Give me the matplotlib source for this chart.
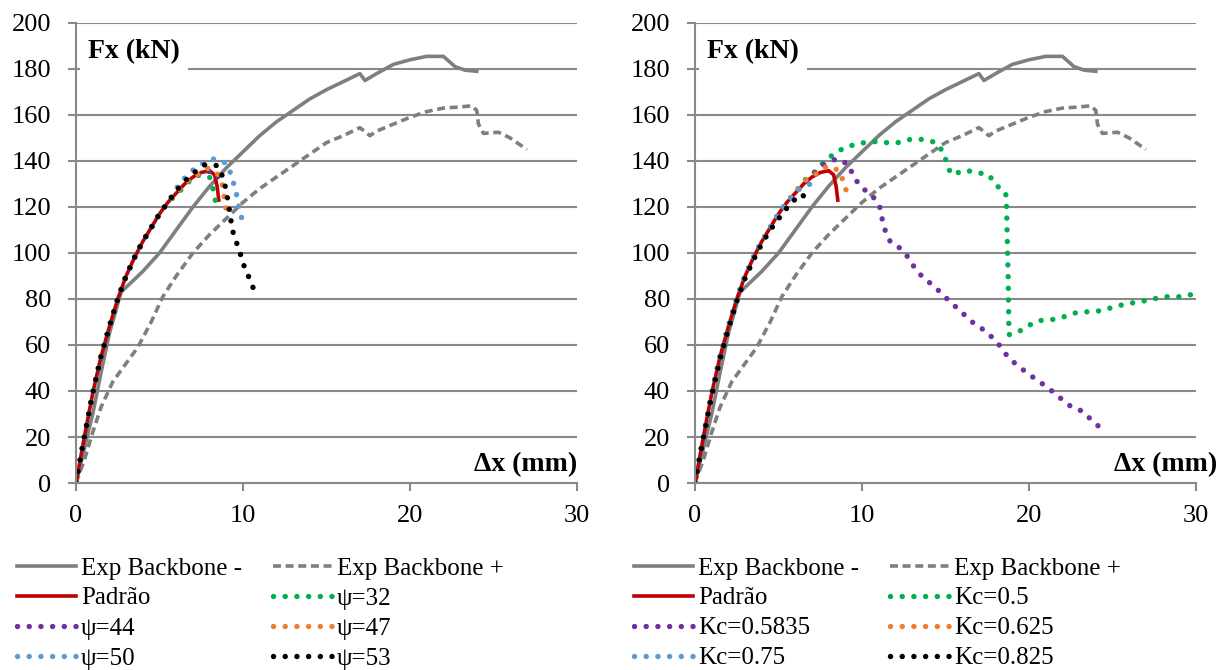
import matplotlib.pyplot as plt

# --- DADOS ---
# Curvas experimentais (envoltórias)
exp_neg_x = [0, 0.5, 1, 1.5, 2, 2.7, 4, 5, 6, 7, 8, 9, 10, 11, 12, 13, 14, 15, 16, 17, 17.3, 18, 19, 20, 21, 22, 22.7, 23.3, 24]
exp_neg_y = [0, 15, 30, 48, 65, 83, 92, 100, 110, 120, 129, 137, 144, 151, 157, 162, 167, 171, 174.5, 178, 175, 178, 182, 184, 185.5, 185.5, 181, 179.5, 179]

exp_pos_x = [0, 0.5, 1, 1.5, 2.2, 3, 3.7, 4.5, 5.2, 6, 7, 8, 9, 10, 11, 12, 13, 14, 15, 16, 17, 17.6, 18, 19, 20, 21, 22, 23, 23.7, 24, 24.1, 24.4, 25.3, 26, 27]
exp_pos_y = [0, 10, 22, 33, 44, 52, 59, 70, 81, 90, 100, 108, 115, 122, 128, 133, 138, 143, 148, 151, 154.5, 151, 153, 156, 159, 161.5, 163, 163.5, 164, 162, 156, 152, 152.5, 150, 145]

# Trecho inicial comum dos modelos numéricos
base_x = [0, 0.5, 1, 1.5, 2, 2.5, 3, 3.5, 4, 4.5, 5, 5.5]
base_y = [0, 20, 39, 55, 68, 80, 90, 98, 105, 111, 117, 122]

padrao_x = base_x + [6, 6.5, 7, 7.5, 8, 8.3, 8.45, 8.55]
padrao_y = base_y + [126, 130, 133, 135, 135.8, 134, 129, 123]

# Gráfico esquerdo: variação de psi
psi_labels = ['ψ=32', 'ψ=44', 'ψ=47', 'ψ=50', 'ψ=53']
psi_x = [
    base_x + [6.1, 6.7, 7.3, 8.0, 8.2, 8.35],
    base_x + [6, 6.5, 7, 7.5, 8.0, 8.45, 8.64],
    base_x + [6, 6.5, 7, 7.5, 7.9, 8.46, 8.76, 8.88, 9.0],
    base_x + [6.0, 6.5, 7.0, 7.6, 8.3, 9.0, 9.3, 9.5, 9.7, 9.8, 10.08],
    base_x + [6.0, 6.48, 7.08, 7.74, 8.46, 8.8, 9.0, 9.12, 9.24, 9.36, 9.6, 9.84, 10.08, 10.38, 10.68],
]
psi_y = [
    base_y + [126, 130.7, 133.8, 133, 128, 122.5],
    base_y + [126, 130, 133, 135, 135.5, 134.6, 128.6],
    base_y + [126, 130, 133, 135, 136.8, 134.6, 129.8, 124, 118.6],
    base_y + [128, 132.5, 136, 139, 141, 139, 134, 128.6, 123, 117.7, 112],
    base_y + [127, 131, 135, 138.5, 138, 133, 127, 121.6, 116, 110, 104.8, 99.6, 94, 89, 83.5],
]

# Gráfico direito: variação de Kc
kc_labels = ['Kc=0.5', 'Kc=0.5835', 'Kc=0.625', 'Kc=0.75', 'Kc=0.825']
kc_x = [
    base_x + [6.0, 6.56, 7.2, 7.7, 8.3, 9.0, 9.8, 10.6, 11.35, 12.15, 12.9, 13.7, 14.45, 14.94, 15.1, 15.4,
              16.15, 16.9, 17.6, 18.0, 18.6, 18.65, 18.75, 18.8, 19.3, 19.96, 20.6, 21.36, 22.1, 22.8, 23.6,
              24.35, 25.1, 25.9, 26.65, 27.4, 28.2, 29.0, 29.8],
    base_x + [6.0, 6.6, 7.2, 7.8, 8.5, 9.2, 9.5, 9.96, 10.6, 11.04, 11.2, 11.4, 11.7, 12.3, 12.8, 13.2, 13.7,
              14.3, 14.9, 15.4, 16.0, 16.6, 17.2, 17.8, 18.3, 18.76, 19.4, 20.0, 20.6, 21.25, 21.9, 22.5,
              23.2, 23.7, 24.3],
    base_x + [6.0, 6.6, 7.3, 7.9, 8.6, 8.9, 9.1],
    base_x + [6.2, 6.9],
    [0, 0.5, 1, 1.5, 2, 2.5, 3, 3.5, 4, 4.5, 5.3, 5.77, 6.4, 6.86],
]
kc_y = [
    base_y + [126, 131.6, 135.5, 139.4, 143, 146, 147.6, 148.5, 148, 148, 149.4, 149.4, 148, 143, 137.6, 134,
              136, 135, 134, 129.6, 126.4, 121.6, 90, 64.5, 65.4, 68.4, 70.6, 71, 72.3, 74, 74.5,
              74.9, 76.6, 78, 78.8, 80, 81, 81, 82],
    base_y + [126.5, 131, 135, 139, 141, 138.5, 133, 128.6, 125, 120.8, 115, 109.5, 104.8, 102, 97.8, 93, 89,
              85.7, 81.4, 78, 74, 70, 67, 63.3, 59.3, 54.5, 50.6, 47.2, 44.2, 40.7, 36.8, 33.3,
              31.2, 27.7, 23.8],
    base_y + [126.5, 131.6, 134.6, 137.8, 136, 131, 126],
    base_y + [127.5, 130],
    [0, 19.5, 38, 54, 67, 79, 89, 97, 104, 110, 117.7, 122, 125.6, 121.7],
]

cores = ['#00B050', '#7030A0', '#ED7D31', '#5B9BD5', '#000000']
cinza = '#7F7F7F'
grade = '#898989'
# -----------------------------

plt.rcParams['font.family'] = ['Liberation Serif', 'DejaVu Serif']

fig = plt.figure(figsize=(12.32, 6.7), dpi=100)
ax1 = fig.add_axes([76 / 1232, 1 - 483 / 670, 501 / 1232, 460 / 670])
ax2 = fig.add_axes([695 / 1232, 1 - 483 / 670, 501 / 1232, 460 / 670])

pontilhado = (0, (0.01, 2.15))


def desenha(ax, labels, xs, ys, xlab_pos):
    h_neg, = ax.plot(exp_neg_x, exp_neg_y, color=cinza, lw=2.6, label='Exp Backbone -')
    h_pos, = ax.plot(exp_pos_x, exp_pos_y, color=cinza, lw=2.6, linestyle=(0, (2.2, 1.3)),
                     label='Exp Backbone +')
    h_pad, = ax.plot(padrao_x, padrao_y, color='#C00000', lw=2.6, label='Padrão')
    hs = [h_neg, h_pos, h_pad]
    for lab, x, y, c in zip(labels, xs, ys, cores):
        h, = ax.plot(x, y, color=c, lw=3.9, linestyle=pontilhado, dash_capstyle='round', label=lab)
        hs.append(h)

    ax.set_xlim(0, 30)
    ax.set_ylim(0, 200)
    ax.set_xticks([0, 10, 20, 30])
    ax.set_yticks(range(0, 201, 20))
    ax.set_axisbelow(True)
    ax.yaxis.grid(True, color=grade, lw=1.5)
    for s in ['top', 'right']:
        ax.spines[s].set_visible(False)
    for s in ['left', 'bottom']:
        ax.spines[s].set_color(grade)
        ax.spines[s].set_linewidth(1.5)
    ax.tick_params(direction='out', length=6, width=1.5, color=grade, labelsize=19)
    ax.tick_params(axis='y', pad=12)
    ax.tick_params(axis='x', pad=10)

    ax.text(0.024, 0.937, 'Fx (kN)', transform=ax.transAxes, fontsize=20, fontweight='bold',
            ha='left', va='center', bbox=dict(facecolor='white', edgecolor='none', pad=6))
    ax.text(xlab_pos, 0.041, 'Δx (mm)', transform=ax.transAxes, fontsize=20, fontweight='bold',
            ha='right', va='center', clip_on=False)

    # ordem da legenda por linhas (2 colunas)
    ordem = [0, 2, 4, 6, 1, 3, 5, 7]
    return [hs[i] for i in ordem]


hs1 = desenha(ax1, psi_labels, psi_x, psi_y, 1.0)
hs2 = desenha(ax2, kc_labels, kc_x, kc_y, 1.042)

for hs, x0 in [(hs1, 17 / 1232), (hs2, 634 / 1232)]:
    fig.legend(handles=hs, loc='upper left', bbox_to_anchor=(x0, 1 - 557 / 670), ncol=2,
               frameon=False, fontsize=18, borderpad=0, borderaxespad=0, handlelength=2.35,
               handletextpad=0.2, columnspacing=1.25, labelspacing=0.3)

plt.savefig('out.png', dpi=100)
